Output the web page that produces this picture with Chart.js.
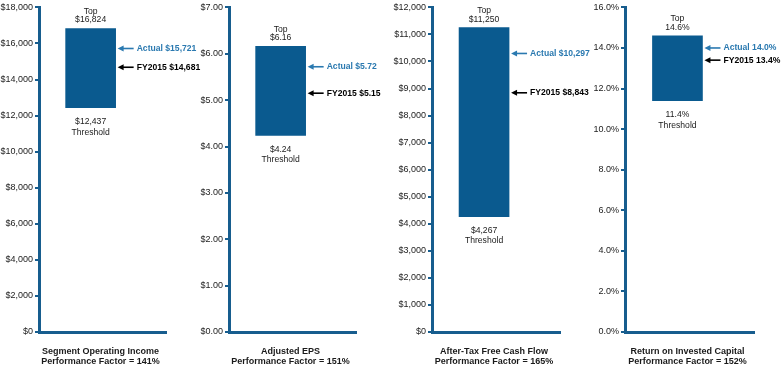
<!DOCTYPE html>
<html>
<head>
<meta charset="utf-8">
<script src="https://cdn.jsdelivr.net/npm/chart.js@4.4.1/dist/chart.umd.min.js"></script>
<style>
  html, body { margin: 0; padding: 0; background: #fff; }
  #wrap { position: relative; width: 783px; height: 368px; overflow: hidden; }
  #wrap canvas { position: absolute; top: 0; }
</style>
</head>
<body>
<div id="wrap">
  <canvas id="c0"></canvas>
  <canvas id="c1"></canvas>
  <canvas id="c2"></canvas>
  <canvas id="c3"></canvas>
</div>
<script>
// Data
const metrics = ['Segment Operating Income', 'Adjusted EPS', 'After-Tax Free Cash Flow', 'Return on Invested Capital'];
const perfFactors = [141, 151, 165, 152];
const thresholds = [12437, 4.24, 4267, 11.4];
const tops = [16824, 6.16, 11250, 14.6];
const actuals = [15721, 5.72, 10297, 14.0];
const fy2015 = [14681, 5.15, 8843, 13.4];
const axisMax = [18000, 7, 12000, 16];
const axisStep = [2000, 1, 1000, 2];
const units = ['dollar', 'eps', 'dollar', 'pct'];

// layout per panel (canvas left, y-axis width, x-axis length)
const panelLeft = [0, 195, 390, 585];
const yAxisWidth = [39, 34, 42, 40];
const xAxisLen = [127, 127, 128, 129];
const CANVAS_W = 240;
const BAR_POS = 0.36;

const AXIS_COLOR = '#175d8e';
const BAR_COLOR = '#0a5a8f';
const ACTUAL_COLOR = '#2a79b0';
const TEXT_COLOR = '#1a1a1a';
const FONT = "'Liberation Sans', Arial, sans-serif";

function fmt(unit, v) {
  if (unit === 'dollar') return '$' + Math.round(v).toLocaleString('en-US');
  if (unit === 'eps') return '$' + v.toFixed(2);
  return v.toFixed(1) + '%';
}

function arrowLabel(ctx, x, y, text, color) {
  ctx.save();
  ctx.strokeStyle = color;
  ctx.fillStyle = color;
  ctx.lineWidth = 1.6;
  ctx.beginPath();
  ctx.moveTo(x + 4, y);
  ctx.lineTo(x + 16, y);
  ctx.stroke();
  ctx.beginPath();
  ctx.moveTo(x, y);
  ctx.lineTo(x + 6, y - 3);
  ctx.lineTo(x + 6, y + 3);
  ctx.closePath();
  ctx.fill();
  ctx.font = 'bold 8.6px ' + FONT;
  ctx.textAlign = 'left';
  ctx.textBaseline = 'middle';
  ctx.fillText(text, x + 19, y);
  ctx.restore();
}

const labelsPlugin = {
  id: 'barLabels',
  afterDatasetsDraw(chart) {
    const i = chart.options.plugins.barLabels.index;
    const unit = units[i];
    const ctx = chart.ctx;
    const bar = chart.getDatasetMeta(0).data[0];
    const yScale = chart.scales.y;
    const area = chart.chartArea;
    const top = Math.min(bar.y, bar.base);
    const bottom = Math.max(bar.y, bar.base);
    const right = bar.x + bar.width / 2;

    ctx.save();
    ctx.fillStyle = TEXT_COLOR;
    ctx.font = '8.6px ' + FONT;
    ctx.textAlign = 'center';
    ctx.textBaseline = 'middle';
    ctx.fillText('Top', bar.x, top - 17);
    ctx.fillText(fmt(unit, tops[i]), bar.x, top - 8.5);
    ctx.fillText(fmt(unit, thresholds[i]), bar.x, bottom + 14);
    ctx.fillText('Threshold', bar.x, bottom + 24.5);

    // bottom titles
    ctx.font = 'bold 9px ' + FONT;
    const cx = (area.left + area.right) / 2 - 2;
    ctx.fillText(metrics[i], cx, area.bottom + 19.5);
    ctx.fillText('Performance Factor = ' + perfFactors[i] + '%', cx, area.bottom + 29.5);
    ctx.restore();

    arrowLabel(ctx, right + 2, yScale.getPixelForValue(actuals[i]), 'Actual ' + fmt(unit, actuals[i]), ACTUAL_COLOR);
    arrowLabel(ctx, right + 2, yScale.getPixelForValue(fy2015[i]), 'FY2015 ' + fmt(unit, fy2015[i]), '#000');
  }
};

metrics.forEach((m, i) => {
  const canvas = document.getElementById('c' + i);
  canvas.style.left = panelLeft[i] + 'px';
  canvas.width = CANVAS_W;
  canvas.height = 368;
  canvas.style.width = CANVAS_W + 'px';
  canvas.style.height = '368px';

  new Chart(canvas, {
    type: 'bar',
    data: {
      datasets: [{
        data: [{ x: BAR_POS, y: [thresholds[i], tops[i]] }],
        backgroundColor: BAR_COLOR,
        borderWidth: 0,
        barThickness: 50
      }]
    },
    plugins: [labelsPlugin],
    options: {
      responsive: false,
      animation: false,
      layout: { padding: { top: 5, right: CANVAS_W - yAxisWidth[i] - xAxisLen[i], left: 0, bottom: 0 } },
      plugins: {
        legend: { display: false },
        tooltip: { enabled: false },
        barLabels: { index: i }
      },
      scales: {
        x: {
          type: 'linear',
          min: 0,
          max: 1,
          ticks: { display: false },
          grid: { display: false },
          border: { color: AXIS_COLOR, width: 3 },
          afterFit: (scale) => { scale.height = 36; }
        },
        y: {
          min: 0,
          max: axisMax[i],
          ticks: {
            stepSize: axisStep[i],
            padding: 2,
            color: '#222',
            font: { family: FONT, size: 9 },
            callback: (v) => fmt(units[i], v)
          },
          grid: { drawOnChartArea: false, drawTicks: true, tickLength: 4, color: AXIS_COLOR, lineWidth: 2 },
          border: { color: AXIS_COLOR, width: 3 },
          afterFit: (scale) => { scale.width = yAxisWidth[i]; }
        }
      }
    }
  });
});
</script>
</body>
</html>
